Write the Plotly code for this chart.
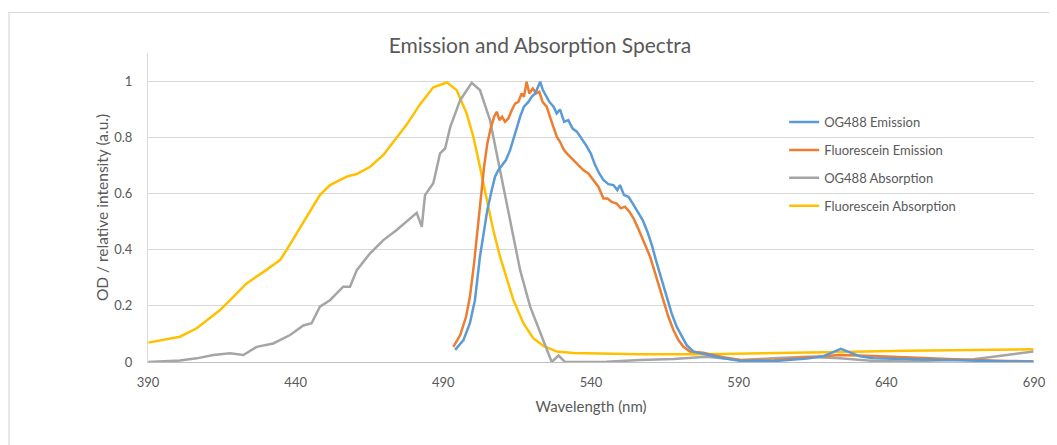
import plotly.graph_objects as go

# ---------------- data ----------------
og488_em_wl = [494.0, 496.8, 499.0, 500.7, 502.4, 503.6, 504.9, 506.4, 507.5, 508.6,
               509.8, 511.2, 512.6, 513.7, 514.8, 516.0, 517.3, 518.8, 519.9, 521.1,
               521.9, 522.8, 523.7, 524.8, 525.9, 527.3, 528.4, 529.5, 530.9, 532.3,
               533.8, 535.2, 536.9, 538.3, 539.9, 541.4, 542.8, 544.2, 545.9, 547.6,
               548.9, 549.8, 551.2, 552.7, 554.1, 555.7, 557.5, 559.1, 560.6, 562.3,
               563.9, 565.6, 567.3, 569.0, 570.7, 572.4, 574.7, 578.0, 584.0, 590.5,
               601.7, 613.1, 618.6, 624.6, 631.1, 635.6, 646.9, 658.2, 669.5, 680.8,
               689.8]
og488_em = [0.043, 0.078, 0.138, 0.220, 0.375, 0.458, 0.541, 0.612, 0.660, 0.683,
            0.701, 0.719, 0.754, 0.796, 0.831, 0.873, 0.909, 0.926, 0.944, 0.956,
            0.974, 0.998, 0.968, 0.944, 0.926, 0.909, 0.885, 0.899, 0.855, 0.861,
            0.831, 0.820, 0.796, 0.772, 0.743, 0.701, 0.671, 0.648, 0.633, 0.630,
            0.612, 0.630, 0.594, 0.588, 0.565, 0.535, 0.505, 0.464, 0.416, 0.351,
            0.292, 0.232, 0.173, 0.126, 0.090, 0.060, 0.037, 0.030, 0.015, 0.004,
            0.003, 0.012, 0.020, 0.047, 0.020, 0.013, 0.010, 0.007, 0.004, 0.002,
            0.002]

fl_em_wl = [493.4, 495.7, 497.7, 499.0, 500.4, 501.6, 502.8, 503.8, 504.9, 506.0,
            507.2, 508.1, 509.0, 509.9, 510.9, 512.0, 513.2, 514.3, 515.4, 516.5,
            517.3, 518.2, 519.1, 520.3, 521.4, 522.5, 523.6, 525.0, 526.1, 527.3,
            528.4, 529.5, 530.9, 532.3, 534.0, 535.7, 537.4, 539.1, 540.8, 542.5,
            544.2, 545.6, 547.0, 548.7, 550.1, 551.5, 553.0, 554.4, 555.7, 557.2,
            558.6, 560.0, 561.4, 562.8, 564.5, 566.2, 567.9, 569.6, 571.3, 573.5,
            578.0, 584.8, 590.5, 601.7, 613.1, 624.3, 635.6, 646.9, 658.2, 669.5,
            680.8, 689.8]
fl_em = [0.054, 0.096, 0.161, 0.232, 0.351, 0.482, 0.600, 0.695, 0.778, 0.831,
         0.873, 0.891, 0.861, 0.873, 0.855, 0.867, 0.897, 0.920, 0.926, 0.956,
         0.944, 0.998, 0.956, 0.974, 0.956, 0.962, 0.926, 0.909, 0.873, 0.837,
         0.802, 0.784, 0.754, 0.737, 0.719, 0.701, 0.683, 0.671, 0.648, 0.624,
         0.582, 0.582, 0.570, 0.564, 0.547, 0.553, 0.535, 0.511, 0.482, 0.446,
         0.410, 0.375, 0.327, 0.280, 0.220, 0.161, 0.114, 0.078, 0.054, 0.037,
         0.033, 0.017, 0.007, 0.005, 0.017, 0.025, 0.021, 0.016, 0.010, 0.007,
         0.004, 0.002]

og488_abs_wl = [390.1, 400.8, 406.5, 412.1, 417.8, 422.3, 426.8, 432.4, 438.1, 442.6,
                445.4, 448.2, 451.6, 456.1, 458.4, 460.7, 465.2, 469.7, 474.2, 478.7,
                481.0, 482.7, 483.8, 486.6, 488.9, 490.6, 492.3, 495.7, 499.6, 502.4,
                505.8, 509.2, 512.6, 516.0, 519.4, 522.7, 525.6, 526.7, 529.0, 531.2,
                534.0, 545.3, 556.6, 567.9, 579.2, 590.5, 601.7, 613.1, 624.3, 635.6,
                646.9, 658.2, 669.5, 680.8, 689.8]
og488_abs = [0.000, 0.005, 0.013, 0.025, 0.031, 0.025, 0.054, 0.066, 0.096, 0.130,
             0.138, 0.197, 0.220, 0.268, 0.268, 0.327, 0.387, 0.434, 0.470, 0.511,
             0.531, 0.481, 0.594, 0.636, 0.743, 0.760, 0.835, 0.932, 0.994, 0.968,
             0.861, 0.683, 0.505, 0.327, 0.197, 0.106, 0.031, 0.000, 0.023, 0.000,
             0.000, 0.001, 0.007, 0.011, 0.019, 0.007, 0.013, 0.019, 0.013, 0.004,
             0.002, 0.005, 0.010, 0.025, 0.037]

fl_abs_wl = [390.1, 400.8, 406.5, 414.4, 417.8, 423.4, 429.0, 434.7, 437.0, 440.4,
             443.7, 448.2, 451.6, 457.3, 460.7, 465.2, 469.7, 473.1, 477.6, 482.1,
             486.6, 491.2, 494.5, 497.9, 500.2, 502.4, 504.7, 506.9, 509.2, 511.5,
             513.7, 517.1, 520.5, 523.9, 528.4, 534.0, 556.6, 579.2, 601.7, 624.3,
             646.9, 669.5, 689.8]
fl_abs = [0.069, 0.090, 0.120, 0.185, 0.220, 0.280, 0.320, 0.363, 0.400, 0.458,
          0.517, 0.594, 0.630, 0.660, 0.669, 0.695, 0.737, 0.784, 0.845, 0.917,
          0.978, 0.995, 0.968, 0.885, 0.800, 0.695, 0.577, 0.470, 0.375, 0.292,
          0.221, 0.138, 0.084, 0.057, 0.037, 0.032, 0.028, 0.028, 0.031, 0.036,
          0.040, 0.043, 0.045]

series_names = ["OG488 Emission", "Fluorescein Emission", "OG488 Absorption", "Fluorescein Absorption"]
series_colors = ["#5B9BD5", "#ED7D31", "#A5A5A5", "#FFC000"]
x_ticks = [390, 440, 490, 540, 590, 640, 690]
y_ticks = [0, 0.2, 0.4, 0.6, 0.8, 1]
y_tick_labels = ["0", "0.2", "0.4", "0.6", "0.8", "1"]

# ---------------- figure ----------------
FONT = "Lato"
TXT = "#595959"

# the page body adds an 8 px margin, so the figure is 8 px smaller than the window
W, H = 1049, 437
L, R, T, B = 140, 23, 45, 83
PW, PH = W - L - R, H - T - B

fig = go.Figure()
xs = [og488_em_wl, fl_em_wl, og488_abs_wl, fl_abs_wl]
ys = [og488_em, fl_em, og488_abs, fl_abs]
order = [3, 2, 1, 0]  # absorption drawn first, emissions on top
for i in order:
    fig.add_trace(go.Scatter(
        x=xs[i], y=ys[i], mode="lines", name=series_names[i],
        line=dict(color=series_colors[i], width=2.5),
        legendrank=i + 1, legendgroup=series_names[i],
        hoverinfo="skip",
    ))

fig.update_layout(
    width=W, height=H,
    paper_bgcolor="white", plot_bgcolor="white",
    margin=dict(l=L, r=R, t=T, b=B, autoexpand=False),
    title=dict(text="Emission and Absorption Spectra", x=532 / W, xanchor="center",
               y=1 - 37.5 / H, yanchor="middle",
               font=dict(family=FONT, size=21, color=TXT)),
    font=dict(family=FONT, size=13, color=TXT),
    legend=dict(x=0.718, xanchor="left", y=0.825, yanchor="top",
                traceorder="grouped", tracegroupgap=8,
                font=dict(family=FONT, size=13, color=TXT),
                bgcolor="rgba(0,0,0,0)", itemwidth=30),
    showlegend=True,
)

fig.update_xaxes(
    range=[390, 690], tickmode="array", tickvals=x_ticks,
    showgrid=False, zeroline=False, showline=True, linecolor="#BFBFBF", linewidth=1,
    ticks="", ticklabelstandoff=8,
    tickfont=dict(family=FONT, size=13, color=TXT),
    title=dict(text="Wavelength (nm)", standoff=12,
               font=dict(family=FONT, size=15, color=TXT)),
    automargin=False,
)
fig.update_yaxes(
    range=[0, 1.1], tickmode="array", tickvals=y_ticks, ticktext=y_tick_labels,
    showgrid=True, gridcolor="#D9D9D9", gridwidth=1,
    zeroline=False, showline=True, linecolor="#D9D9D9", linewidth=1,
    ticks="", ticklabelstandoff=12,
    tickfont=dict(family=FONT, size=13, color=TXT),
    title=dict(text="OD / relative intensity (a.u.)", standoff=1,
               font=dict(family=FONT, size=15.5, color=TXT)),
    automargin=False,
)

# outer chart-area frame
fig.add_shape(type="rect", xref="paper", yref="paper",
              x0=(1 - L) / PW, x1=1.2, y0=-0.6, y1=(PH + T - 4.5) / PH,
              line=dict(color="#D9D9D9", width=1.2), fillcolor="rgba(0,0,0,0)", layer="below")

fig.write_html("out.html")
